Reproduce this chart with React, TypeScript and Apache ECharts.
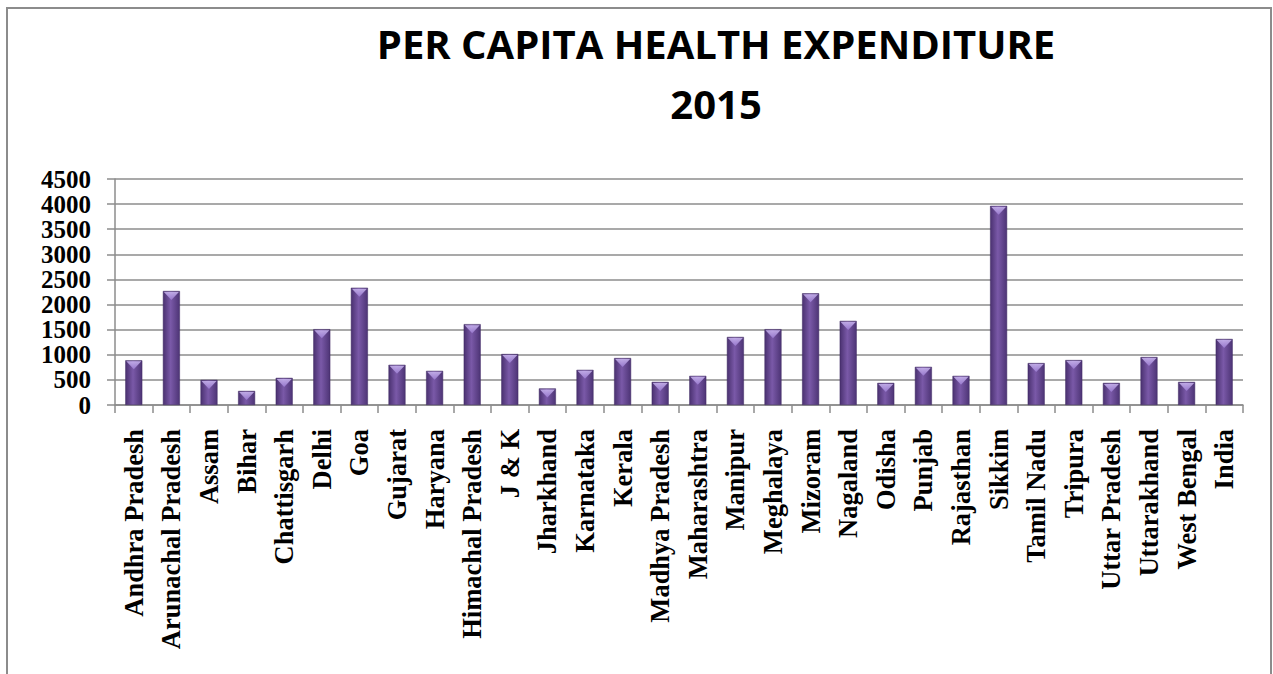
import React, { useEffect, useRef } from "react";
import * as echarts from "echarts";

const categories = [
  "Andhra Pradesh", "Arunachal Pradesh", "Assam", "Bihar", "Chattisgarh", "Delhi", "Goa",
  "Gujarat", "Haryana", "Himachal Pradesh", "J & K", "Jharkhand", "Karnataka", "Kerala",
  "Madhya Pradesh", "Maharashtra", "Manipur", "Meghalaya", "Mizoram", "Nagaland", "Odisha",
  "Punjab", "Rajasthan", "Sikkim", "Tamil Nadu", "Tripura", "Uttar Pradesh", "Uttarakhand",
  "West Bengal", "India",
];

const values = [
  890, 2270, 500, 280, 540, 1510, 2335, 800, 680, 1610, 1015, 330, 700, 935, 460, 580,
  1355, 1510, 2225, 1675, 440, 760, 580, 3965, 835, 895, 440, 955, 460, 1315,
];

const yTicks = [0, 500, 1000, 1500, 2000, 2500, 3000, 3500, 4000, 4500];

export default function App() {
  const ref = useRef<HTMLDivElement>(null);
  useEffect(() => {
    if (!ref.current) return;
    const chart = echarts.init(ref.current, null, { renderer: "svg" });
    const serif = "'Liberation Serif', 'Times New Roman', serif";
    chart.setOption({
      animation: false,
      backgroundColor: "#ffffff",
      title: {
        text: "PER CAPITA HEALTH EXPENDITURE\n2015",
        left: 711,
        top: 8,
        textAlign: "center",
        textStyle: {
          fontFamily: "'Open Sans', sans-serif",
          fontWeight: "bold",
          fontSize: 40,
          lineHeight: 60,
          color: "#000000",
        },
      },
      graphic: [
        {
          type: "rect",
          shape: { x: 7, y: 8, width: 1264, height: 700 },
          style: { fill: "none", stroke: "#8c8c8c", lineWidth: 2 },
          silent: true,
        },
      ],
      grid: { left: 115, right: 30, top: 179, bottom: 269, containLabel: false },
      xAxis: {
        type: "category",
        data: categories,
        boundaryGap: true,
        axisLine: { show: true, lineStyle: { color: "#8c8c8c", width: 1.5 } },
        axisTick: { show: true, alignWithLabel: false, length: 8, lineStyle: { color: "#8c8c8c", width: 1.5 } },
        axisLabel: {
          interval: 0,
          rotate: 90,
          margin: 24,
          fontFamily: serif,
          fontWeight: "bold",
          fontSize: 26.5,
          color: "#000000",
        },
      },
      yAxis: {
        type: "value",
        min: 0,
        max: 4500,
        interval: 500,
        axisLine: { show: true, lineStyle: { color: "#8c8c8c", width: 1.5 } },
        axisTick: { show: true, length: 8, lineStyle: { color: "#8c8c8c", width: 1.5 } },
        splitLine: { show: true, lineStyle: { color: "#8c8c8c", width: 1.5 } },
        axisLabel: {
          margin: 24,
          fontFamily: serif,
          fontWeight: "bold",
          fontSize: 25,
          color: "#000000",
          formatter: (v: number) => (yTicks.includes(v) ? String(v) : ""),
        },
      },
      series: [
        {
          type: "bar",
          data: values,
          barWidth: 17,
          itemStyle: {
            color: new echarts.graphic.LinearGradient(0, 0, 1, 0, [
              { offset: 0, color: "#4a3170" },
              { offset: 0.45, color: "#7a59a8" },
              { offset: 1, color: "#4d3475" },
            ]),
            borderColor: "#3e2862",
            borderWidth: 0.5,
          },
          z: 2,
        },
        {
          type: "scatter",
          data: values,
          symbol: "path://M0,0L10,0L5,6Z",
          symbolSize: [15, 8],
          symbolOffset: [0, 5],
          itemStyle: {
            color: new echarts.graphic.LinearGradient(0, 0, 0, 1, [
              { offset: 0, color: "#d2bff7" },
              { offset: 1, color: "#9f80d6" },
            ]),
          },
          silent: true,
          z: 3,
        },
      ],
    });
    return () => chart.dispose();
  }, []);
  return (
    <div
      ref={ref}
      style={{ position: "fixed", left: 0, top: 0, width: 1273, height: 674, background: "#fff" }}
    />
  );
}
